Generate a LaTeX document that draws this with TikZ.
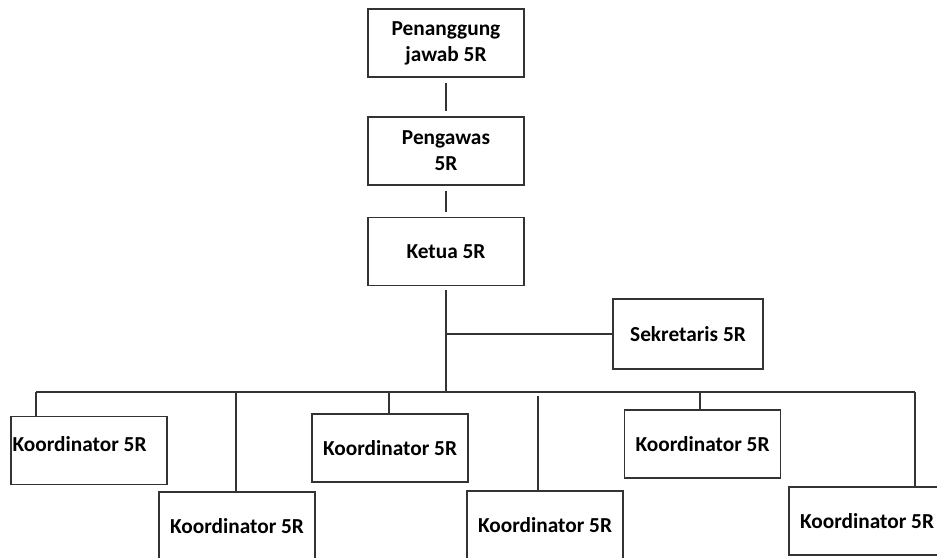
\documentclass[tikz,border=0pt]{standalone}
\usepackage{fontspec}
\setmainfont{Carlito}
\usetikzlibrary{positioning,calc}

\begin{document}
\begin{tikzpicture}[x=0.75pt, y=-0.75pt, box/.style={draw=black!80, line width=1pt, minimum width=#1, minimum height=51pt, align=center, font=\bfseries\fontsize{16}{19.5}\selectfont}, box/.default=117pt, link/.style={draw=black!80, line width=1pt}]
\useasboundingbox (0,0) rectangle (937,557); \clip (0,0) rectangle (937,557);
\node[box] (pj) at (446,43) {Penanggung\\jawab 5R};
\node[box] (pw) at (446,151) {Pengawas\\5R}; \node[box] (kt) at (446,251.5) {Ketua 5R};
\node[box=112.5pt, minimum height=52.5pt] (sk) at (688,334) {Sekretaris 5R};
\node[box] (k1) at (89,450.5) {}; \node[box] (k2) at (237,526) {Koordinator 5R}; \node[box] (k3) at (390,448) {Koordinator 5R};
\node[box] (k4) at (545,525) {Koordinator 5R}; \node[box] (k5) at (702.5,444) {Koordinator 5R}; \node[box] (k6) at (867,521) {Koordinator 5R};
\node[anchor=west, inner sep=0pt, font=\bfseries\fontsize{16}{19.5}\selectfont] (k1t) at ([shift={(1.5pt,5pt)}]k1.west) {Koordinator 5R};
\coordinate (bus) at (446,392);
\draw[link, shorten <=3.75pt, shorten >=3.75pt] (pj) -- (pw);
\draw[link, shorten <=3.75pt, shorten >=3.75pt] (pw) -- (kt);
\draw[link, shorten <=3pt] (kt) -- (bus);
\draw[link] (sk.west) -- (sk.west -| bus);
\foreach \n/\x in {k1/36, k2/236, k3/389, k4/538, k5/700, k6/915} \coordinate (d\n) at (\x,392);
\draw[link] (dk1) -- (dk6);
\foreach \n in {k1,k2,k3,k5,k6} \draw[link] (d\n) -- (d\n |- \n.north);
\draw[link, shorten <=3pt] (dk4) -- (dk4 |- k4.north);
\end{tikzpicture}
\end{document}
